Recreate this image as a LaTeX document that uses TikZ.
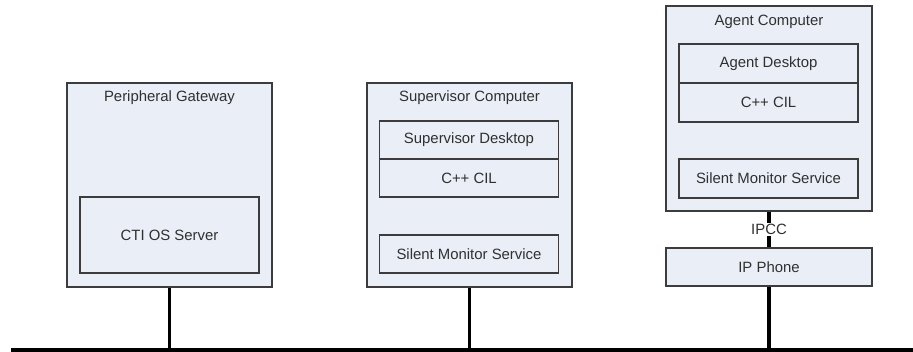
\documentclass[tikz,border=0pt]{standalone}
\usepackage{fontspec}
\setmainfont{Liberation Sans}
\definecolor{boxfill}{HTML}{E9EEF7}
\definecolor{boxline}{HTML}{3C3C3C}
\definecolor{textgray}{HTML}{303030}
\newcommand{\pxu}{0.025cm}
\tikzset{
	outerbox/.style={draw=boxline, fill=boxfill, line width=0.9pt, minimum width=205*\pxu, minimum height=204*\pxu},
	innerbox/.style={draw=boxline, fill=boxfill, line width=0.9pt, minimum width=179*\pxu, minimum height=#1*\pxu},
	innerbox/.default=38,
	wire/.style={line width=2.2pt, black}
}

\begin{document}
\begin{tikzpicture}[x=\pxu, y=-\pxu]
		\tikzstyle{every node}=[font=\fontsize{10.6}{12}\selectfont, text=textgray, inner sep=0pt]
		\useasboundingbox (0,0) rectangle (913,352);

		% Peripheral Gateway
		\node[outerbox] (pg) at (169.5,185) {};
		\node (pgtitle) at (169.5,98) {Peripheral Gateway};
		\node[innerbox=76] (ctios) at (169.5,235) {CTI OS Server};

		% Supervisor Computer
		\node[outerbox] (sc) at (469.5,185) {};
		\node (sctitle) at (469.5,98) {Supervisor Computer};
		\node[innerbox] (supdesk) at (469,140) {Supervisor Desktop};
		\node[innerbox] (supcil) at (469,178) {C++ CIL};
		\node[innerbox] (supsms) at (469,254) {Silent Monitor Service};

		% Agent Computer
		\node[outerbox, minimum width=206*\pxu, minimum height=205*\pxu] (ac) at (769,108.5) {};
		\node (actitle) at (769,22) {Agent Computer};
		\node[innerbox=39] (agdesk) at (768.5,63.5) {Agent Desktop};
		\node[innerbox=39] (agcil) at (768.5,102.5) {C++ CIL};
		\node[innerbox=39] (agsms) at (768.5,178.5) {Silent Monitor Service};
		\node[outerbox, minimum width=206*\pxu, minimum height=38*\pxu] (phone) at (769,267) {IP Phone};

		% -----------------------------------------------------
		% network bus
		\coordinate (busl) at (11,350);
		\coordinate (busr) at (913,350);
		\draw[wire] (busl) -- (busr);

		\coordinate (buspg) at (pg.south |- busl);
		\coordinate (bussc) at (sc.south |- busl);
		\coordinate (busph) at (phone.south |- busl);
		\draw[wire] (pg.south) -- (buspg);
		\draw[wire] (sc.south) -- (bussc);
		\draw[wire] (phone.south) -- (busph);

		\draw[wire] (ac.south) -- node[fill=white, inner sep=1pt] (ipcc) {IPCC} (phone.north);
\end{tikzpicture}
\end{document}
